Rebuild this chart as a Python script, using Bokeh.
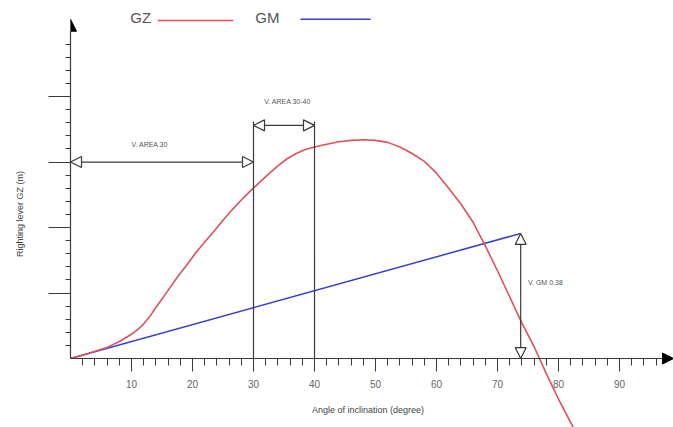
from bokeh.plotting import figure
from bokeh.models import Range1d, LinearAxis, FixedTicker, Arrow, NormalHead, Label
from bokeh.embed import file_html
from bokeh.resources import INLINE

# ---- data ----
gz_angle = [0, 3, 6, 8, 10, 11, 12, 13, 14, 15, 16, 17.5, 19, 20.5, 22, 23.5, 25, 26.5,
            28, 29.5, 31, 32.5, 34, 35.5, 37, 38.5, 40, 42, 44, 46, 48, 50, 52, 54, 56,
            58, 60, 62, 64, 66, 68, 70, 72, 74, 76, 78, 80, 82, 83]
gz_value = [0, 0.008, 0.017, 0.026, 0.037, 0.044, 0.053, 0.064, 0.078, 0.091, 0.104,
            0.124, 0.142, 0.161, 0.178, 0.194, 0.211, 0.227, 0.242, 0.256, 0.269, 0.282,
            0.294, 0.305, 0.313, 0.319, 0.323, 0.327, 0.331, 0.333, 0.334, 0.333, 0.330,
            0.323, 0.313, 0.301, 0.283, 0.260, 0.236, 0.208, 0.172, 0.134, 0.094, 0.054,
            0.018, -0.023, -0.062, -0.098, -0.115]
gm_angle = [0, 73.8]
gm_value = [0, 0.191]

x_ticks = [10, 20, 30, 40, 50, 60, 70, 80, 90]
x_minor = [a for a in range(2, 98, 2) if a % 10 != 0]
y_ticks = [0.1, 0.2, 0.3, 0.4]
y_minor = [round(0.02 * i, 2) for i in range(1, 25) if i % 5 != 0]

area1 = (0, 30)
area2 = (30, 40)
gm_at = 73.8
labels = {"area1": "V. AREA 30", "area2": "V. AREA 30-40", "gm": "V. GM 0.38"}

FONT = "Liberation Sans"
AX = "#3a3a3a"
TXT = "#555555"
RED = "#e0505e"
BLUE = "#3c3cd0"

W, H = 673, 427
LEFT = 70
XMAX = 98.85
YMIN, YMAX = -0.1053, 0.5466

p = figure(width=W, height=H, output_backend="svg", toolbar_location=None,
           x_range=Range1d(0, XMAX), y_range=Range1d(YMIN, YMAX),
           x_axis_type=None, y_axis_type=None,
           min_border_left=LEFT, min_border_right=0, min_border_top=0, min_border_bottom=0)
p.outline_line_color = None
p.grid.visible = False
p.background_fill_color = "white"
p.border_fill_color = "white"

# axes
xaxis = LinearAxis(fixed_location=0, ticker=FixedTicker(ticks=x_ticks, minor_ticks=x_minor),
                   bounds=(0, 97.5), axis_line_color=AX, axis_line_width=1.2,
                   major_tick_in=0, major_tick_out=13, minor_tick_in=0, minor_tick_out=7,
                   major_tick_line_color=AX, minor_tick_line_color=AX,
                   major_label_text_font=FONT, major_label_text_font_size="10px",
                   major_label_text_color="#666666", major_label_standoff=8,
                   axis_label="Angle of inclination (degree)", axis_label_text_font=FONT,
                   axis_label_text_font_size="9px", axis_label_text_font_style="normal",
                   axis_label_text_color="#444444", axis_label_standoff=14)
p.add_layout(xaxis, "below")

yaxis = LinearAxis(ticker=FixedTicker(ticks=y_ticks, minor_ticks=y_minor),
                   bounds=(0, 0.5), axis_line_color=AX, axis_line_width=1.2,
                   major_tick_in=0, major_tick_out=22, minor_tick_in=0, minor_tick_out=5,
                   major_tick_line_color=AX, minor_tick_line_color=AX,
                   major_label_overrides={t: "" for t in y_ticks},
                   major_label_standoff=0,
                   axis_label="Righting lever GZ (m)", axis_label_text_font=FONT,
                   axis_label_text_font_size="9px", axis_label_text_font_style="normal",
                   axis_label_text_color="#444444", axis_label_standoff=24)
p.add_layout(yaxis, "left")

# axis arrow heads
p.add_layout(Arrow(x_start=96.5, y_start=0, x_end=XMAX, y_end=0, line_color=AX,
                   end=NormalHead(size=11, fill_color="black", line_color="black")))
p.add_layout(Arrow(x_start=0, y_start=0.49, x_end=0, y_end=0.518, line_color=AX,
                   end=NormalHead(size=12, fill_color="black", line_color="black")))

# curves
p.line(gm_angle, gm_value, line_color=BLUE, line_width=1.5)
p.line(gz_angle, gz_value, line_color=RED, line_width=1.6, line_join="round")

# helpers for open-head double arrows
def dbl_arrow(x0, y0, x1, y1):
    p.add_layout(Arrow(x_start=x0, y_start=y0, x_end=x1, y_end=y1, line_color=AX, line_width=1.2,
                       start=NormalHead(size=11, fill_color="white", line_color=AX, line_width=1.2),
                       end=NormalHead(size=11, fill_color="white", line_color=AX, line_width=1.2)))

# area 0-30
dbl_arrow(area1[0], 0.300, area1[1], 0.300)
p.add_layout(Label(x=13.0, y=0.326, text=labels["area1"], text_font=FONT, text_font_size="7px",
                   text_color=TXT, text_align="center", text_baseline="middle"))

# area 30-40 verticals and arrow
p.segment(x0=[area2[0], area2[1]], y0=[0, 0], x1=[area2[0], area2[1]], y1=[0.362, 0.362],
          line_color=AX, line_width=1.2)
dbl_arrow(area2[0], 0.356, area2[1], 0.356)
p.add_layout(Label(x=35.6, y=0.392, text=labels["area2"], text_font=FONT, text_font_size="7px",
                   text_color=TXT, text_align="center", text_baseline="middle"))

# GM vertical arrow
dbl_arrow(gm_at, 0, gm_at, gm_value[1])
p.add_layout(Label(x=gm_at + 1.2, y=0.116, text=labels["gm"], text_font=FONT, text_font_size="7px",
                   text_color=TXT, text_align="left", text_baseline="middle"))

# legend (text before line)
p.add_layout(Label(x=9.8, y=0.520, text="GZ", text_font=FONT, text_font_size="15px",
                   text_color="#555555", text_align="left", text_baseline="middle"))
p.segment(x0=[14.3], y0=[0.516], x1=[26.7], y1=[0.516], line_color=RED, line_width=1.6)
p.add_layout(Label(x=30.3, y=0.520, text="GM", text_font=FONT, text_font_size="15px",
                   text_color="#555555", text_align="left", text_baseline="middle"))
p.segment(x0=[37.7], y0=[0.518], x1=[49.2], y1=[0.518], line_color=BLUE, line_width=1.6)

open("out.html", "w").write(file_html(p, INLINE))
